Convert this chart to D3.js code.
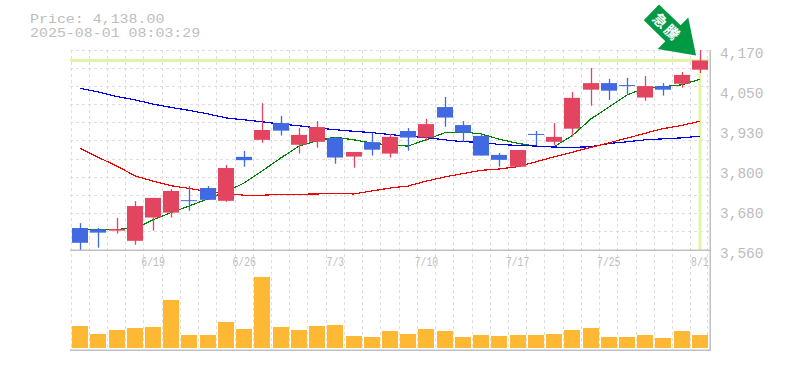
<!DOCTYPE html>
<html><head><meta charset="utf-8">
<script src="https://cdn.jsdelivr.net/npm/d3@7"></script>
<style>
html,body{margin:0;padding:0;background:#fff}
svg{display:block}
text{font-family:"Liberation Mono",monospace}
</style></head><body>
<svg id="c" width="785" height="370"></svg>
<script>
const dates=["6/13","6/16","6/17","6/18","6/19","6/20","6/23","6/24","6/25","6/26","6/27","6/30","7/1","7/2","7/3","7/4","7/7","7/8","7/9","7/10","7/11","7/14","7/15","7/16","7/17","7/18","7/22","7/23","7/24","7/25","7/28","7/29","7/30","7/31","8/1"];
const labelledDates=["6/19","6/26","7/3","7/10","7/17","7/25","8/1"];
const open=[3627,3623,3619,3588,3659,3674,3712,3749,3710,3844,3896,3947,3881,3890,3902,3845,3889,3854,3923,3903,3996,3941,3908,3850,3814,3914,3890,3930,4049,4069,4063,4025,4060,4067,4110];
const close=[3582,3613,3624,3694,3719,3740,3709,3713,3810,3834,3926,3924,3911,3935,3842,3859,3866,3905,3903,3944,3964,3918,3848,3835,3865,3911,3905,4024,4069,4046,4060,4060,4049,4094,4138];
const high=[3642,3627,3658,3709,3719,3746,3755,3755,3819,3862,4008,3969,3932,3953,3905,3859,3917,3914,3932,3960,4027,3953,3914,3856,3865,3923,3947,4042,4115,4082,4085,4091,4069,4103,4170];
const low=[3560,3567,3610,3576,3619,3659,3680,3713,3707,3814,3887,3909,3854,3872,3823,3811,3848,3842,3863,3893,3936,3890,3848,3814,3814,3880,3880,3906,4000,4018,4034,4015,4031,4055,4100];
const maShort=[3624,3623,3623,3626,3652,3674,3694,3716,3738,3764,3801,3841,3877,3893,3904,3896,3886,3880,3877,3896,3918,3920,3914,3898,3885,3877,3875,3908,3960,3996,4033,4054,4058,4064,4081];
const maMid=[4053,4042,4028,4018,4005,3995,3986,3975,3963,3957,3951,3944,3939,3932,3927,3922,3918,3912,3907,3903,3896,3890,3889,3882,3879,3877,3874,3873,3875,3885,3890,3896,3899,3902,3907];
const maLong=[3870,3843,3816,3786,3770,3756,3748,3738,3733,3727,3727,3730,3730,3731,3732,3731,3740,3749,3755,3770,3783,3793,3803,3807,3814,3829,3844,3858,3873,3887,3901,3916,3930,3940,3953];
const volume=[220,140,180,200,210,480,130,130,260,190,710,210,180,220,230,120,110,170,140,190,170,110,130,120,130,130,140,180,200,110,110,130,100,170,130];
const priceTicks=[3560,3682,3804,3926,4048,4170];
const gridSteps=d3.range(12);
const lastPrice=4138.00;
const stamp="2025-08-01 08:03:29";
const arrowText=["急","騰"];

const svg=d3.select("#c");
const x=d3.scaleBand().domain(dates).range([71,709]);
const y=d3.scaleLinear().domain([3560,4170]).range([250,50]);
const v=d3.scaleLinear().domain([0,980]).range([348,250]);
const cx=d=>Math.round(x(d)+x.bandwidth()/2);
const crisp=n=>Math.floor(n)+.5;
const GRID="#dedede",AXIS="#c0c0c0",TXT="#bdbdbd",HL="#e2f5a6",UP="#e34460",DOWN="#4169e1";

// grid
const gStep=(y.domain()[1]-y.domain()[0])/11;
const grid=svg.append("g").attr("stroke",GRID).attr("stroke-dasharray","3 3").attr("stroke-width",1);
grid.selectAll(".h").data(gridSteps).join("line").attr("x1",70).attr("x2",710)
  .attr("y1",i=>crisp(y(3560+i*gStep))).attr("y2",i=>crisp(y(3560+i*gStep)));
grid.selectAll(".v").data(dates).join("line").attr("y1",50).attr("y2",350)
  .attr("x1",d=>crisp(x(d))).attr("x2",d=>crisp(x(d)));
const lastX=crisp(x(dates[dates.length-1])+x.step())-1;
grid.append("line").attr("y1",50).attr("y2",350).attr("x1",lastX).attr("x2",lastX);

// highlights
svg.append("line").attr("x1",70).attr("x2",709).attr("y1",y(lastPrice)).attr("y2",y(lastPrice)).attr("stroke",HL).attr("stroke-width",3);
svg.append("line").attr("x1",cx("8/1")).attr("x2",cx("8/1")).attr("y1",y(lastPrice)).attr("y2",250).attr("stroke",HL).attr("stroke-width",3);

// moving averages
const addLine=(vals,c)=>svg.append("path").datum(vals).attr("fill","none").attr("stroke",c).attr("stroke-width",1.2)
  .attr("shape-rendering","crispEdges")
  .attr("d",d3.line().x((d,i)=>cx(dates[i])).y(d=>y(d)));
addLine(maShort,"#008000");
addLine(maMid,"#0000ee");
addLine(maLong,"#f00000");

// candles
const col=i=>close[i]>=open[i]?UP:DOWN;
const idx=d3.range(dates.length);
svg.append("g").selectAll("line").data(idx).join("line")
 .attr("x1",i=>cx(dates[i])+.5).attr("x2",i=>cx(dates[i])+.5)
 .attr("y1",i=>y(high[i])).attr("y2",i=>y(low[i])).attr("stroke",col).attr("stroke-width",1.3);
svg.append("g").selectAll("rect").data(idx).join("rect")
 .attr("x",i=>cx(dates[i])-8).attr("width",16)
 .attr("y",i=>y(Math.max(open[i],close[i])))
 .attr("height",i=>Math.max(1,Math.abs(y(open[i])-y(close[i])))).attr("fill",col);

// volume
svg.append("g").selectAll("rect").data(volume).join("rect")
 .attr("x",(d,i)=>cx(dates[i])-8).attr("width",16)
 .attr("y",d=>v(d)).attr("height",d=>348-v(d)).attr("fill","#ffb833");

// frame
const fr=svg.append("g").attr("stroke",AXIS).attr("stroke-width",1.5);
fr.append("line").attr("x1",70).attr("x2",711).attr("y1",250.25).attr("y2",250.25);
fr.append("line").attr("x1",70).attr("x2",711).attr("y1",350.25).attr("y2",350.25);
fr.append("line").attr("x1",710.25).attr("x2",710.25).attr("y1",50).attr("y2",351);

// axes
const yAxis=d3.axisRight(y).tickValues(priceTicks).tickSize(0).tickPadding(10)
  .tickFormat(d=>d3.format(",")(Math.round(d/10)*10));
const ay=svg.append("g").attr("transform","translate(710,0)").call(yAxis);
ay.select(".domain").remove();
ay.selectAll("text").attr("fill",TXT).attr("font-size",14.5).attr("dy",7).attr("font-family","Liberation Mono");

const xAxis=d3.axisBottom(x).tickValues(labelledDates).tickSize(0).tickPadding(0);
const ax=svg.append("g").attr("transform","translate(0,256)").call(xAxis);
ax.select(".domain").remove();
ax.selectAll("text").attr("fill",TXT).attr("font-size",12).attr("font-family","Liberation Mono")
  .attr("dy",9.5).attr("textLength",d=>d.length*5.85).attr("lengthAdjust","spacingAndGlyphs");

// title
const title=["Price: "+d3.format(",.2f")(lastPrice),stamp];
svg.selectAll(".t").data(title).join("text").attr("x",30).attr("y",(d,i)=>23+i*14).attr("fill",TXT)
  .attr("font-size",13.5).attr("textLength",d=>d.length*8.96).attr("lengthAdjust","spacingAndGlyphs").text(d=>d);

// arrow
const tipX=cx("8/1")-4,tipY=y(lastPrice)-5;
const arrow=svg.append("g").attr("transform",`translate(${tipX},${tipY}) rotate(44)`);
const arrowShape=[[0,0],[-32,-22],[-32,-11],[-62,-11],[-62,11],[-32,11],[-32,22]];
arrow.append("polygon").attr("points",arrowShape.map(p=>p.join(",")).join(" ")).attr("fill","#009944");
arrowText.forEach((t,i)=>arrow.append("text").attr("x",-50+i*16.5).attr("y",0).attr("dy","0.36em").attr("text-anchor","middle")
  .attr("fill","#fff").attr("font-weight","bold").attr("font-size",14.5).style("font-family","'Noto Sans CJK JP'").text(t));
</script>
</body></html>
